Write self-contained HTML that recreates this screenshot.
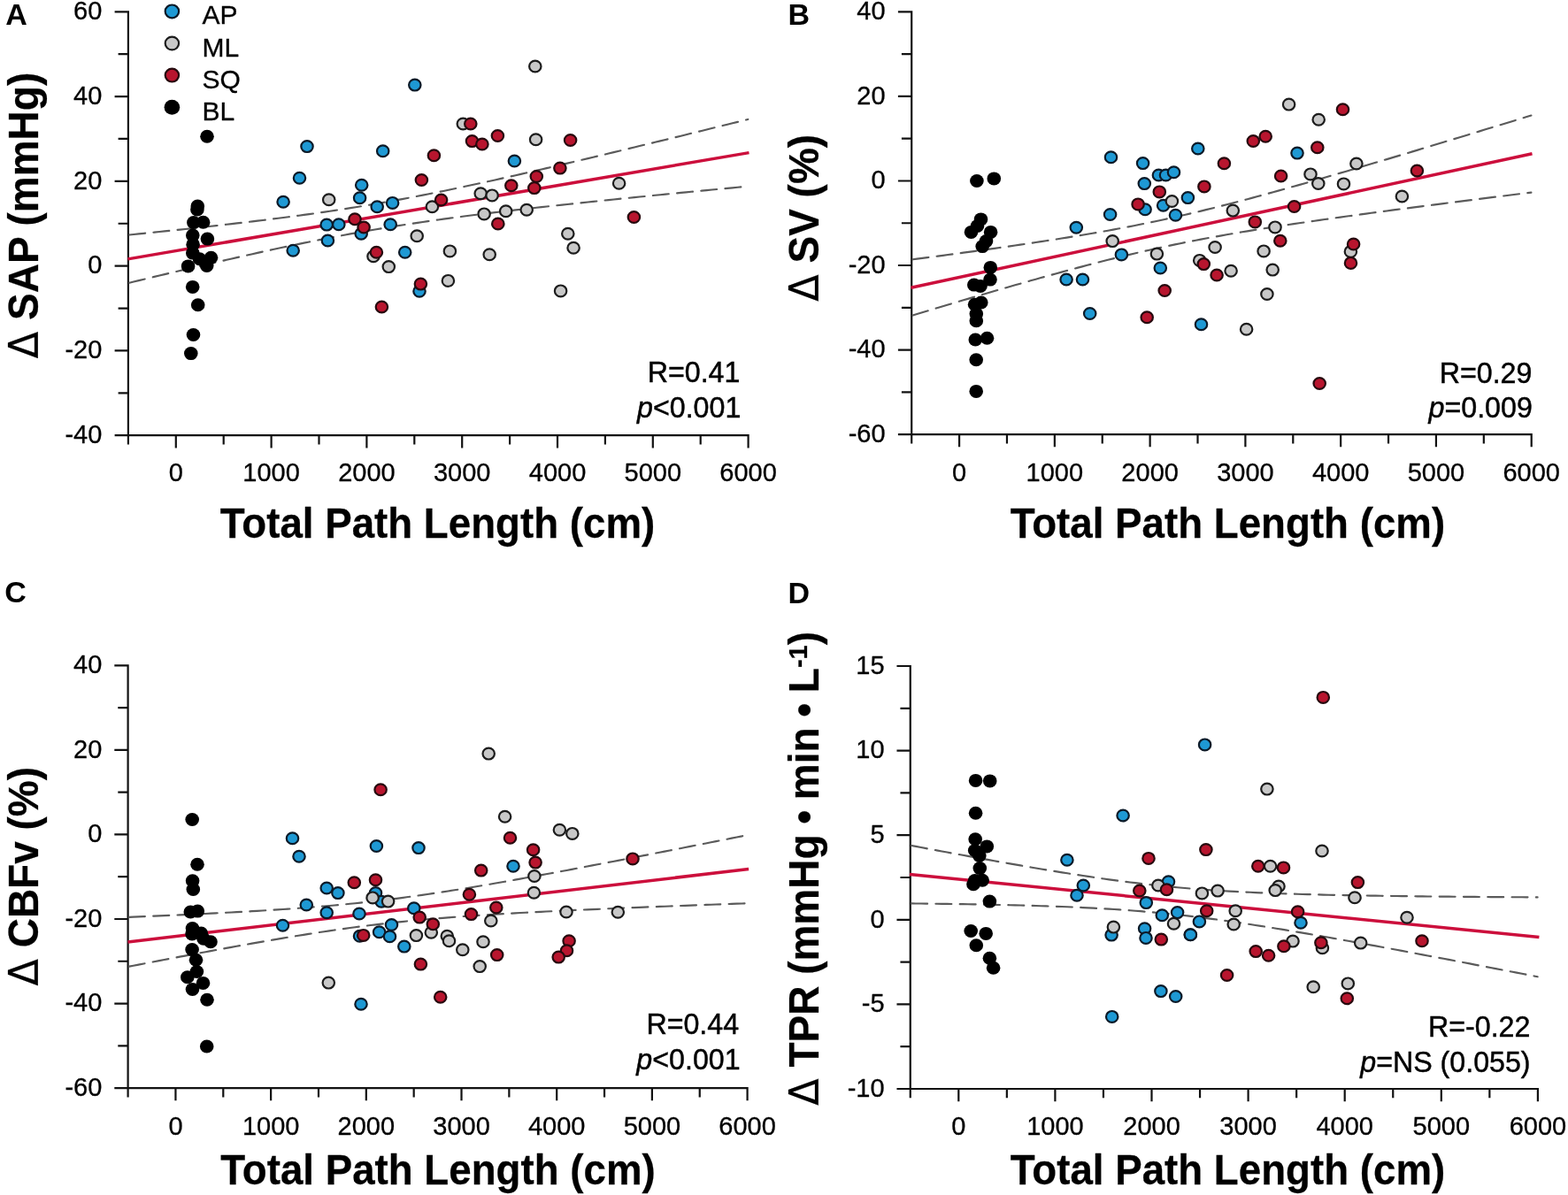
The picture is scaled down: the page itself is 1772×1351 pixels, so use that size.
<!DOCTYPE html>
<html><head><meta charset="utf-8"><title>Figure</title>
<style>html,body{margin:0;padding:0;background:#fff;} svg{display:block;} text{font-family:'Liberation Sans', Arial, sans-serif;fill:#000;}</style>
</head><body>
<svg width="1772" height="1351" viewBox="0 0 1772 1351">
<rect width="1772" height="1351" fill="#fff"/>
<path d="M144.90,12.20V502.50M129.60,492.20H846.70M129.60,13.30H144.90M133.60,61.19H144.90M129.60,109.08H144.90M133.60,156.97H144.90M129.60,204.86H144.90M133.60,252.75H144.90M129.60,300.64H144.90M133.60,348.53H144.90M129.60,396.42H144.90M133.60,444.31H144.90M129.60,492.20H144.90M144.90,492.20V502.50M198.80,492.20V506.40M252.70,492.20V502.50M306.60,492.20V506.40M360.50,492.20V502.50M414.40,492.20V506.40M468.30,492.20V502.50M522.20,492.20V506.40M576.10,492.20V502.50M630.00,492.20V506.40M683.90,492.20V502.50M737.80,492.20V506.40M791.70,492.20V502.50M845.60,492.20V506.40" stroke="#111" stroke-width="2.2" fill="none" stroke-linecap="butt"/>
<text transform="translate(115.30,22.00)" font-size="29" font-weight="normal" font-style="normal" text-anchor="end" stroke="#000" stroke-width="0.3" >60</text>
<text transform="translate(115.30,117.78)" font-size="29" font-weight="normal" font-style="normal" text-anchor="end" stroke="#000" stroke-width="0.3" >40</text>
<text transform="translate(115.30,213.56)" font-size="29" font-weight="normal" font-style="normal" text-anchor="end" stroke="#000" stroke-width="0.3" >20</text>
<text transform="translate(115.30,309.34)" font-size="29" font-weight="normal" font-style="normal" text-anchor="end" stroke="#000" stroke-width="0.3" >0</text>
<text transform="translate(115.30,405.12)" font-size="29" font-weight="normal" font-style="normal" text-anchor="end" stroke="#000" stroke-width="0.3" >-20</text>
<text transform="translate(115.30,500.90)" font-size="29" font-weight="normal" font-style="normal" text-anchor="end" stroke="#000" stroke-width="0.3" >-40</text>
<text transform="translate(198.80,544.30)" font-size="29" font-weight="normal" font-style="normal" text-anchor="middle" stroke="#000" stroke-width="0.3" >0</text>
<text transform="translate(306.60,544.30)" font-size="29" font-weight="normal" font-style="normal" text-anchor="middle" stroke="#000" stroke-width="0.3" >1000</text>
<text transform="translate(414.40,544.30)" font-size="29" font-weight="normal" font-style="normal" text-anchor="middle" stroke="#000" stroke-width="0.3" >2000</text>
<text transform="translate(522.20,544.30)" font-size="29" font-weight="normal" font-style="normal" text-anchor="middle" stroke="#000" stroke-width="0.3" >3000</text>
<text transform="translate(630.00,544.30)" font-size="29" font-weight="normal" font-style="normal" text-anchor="middle" stroke="#000" stroke-width="0.3" >4000</text>
<text transform="translate(737.80,544.30)" font-size="29" font-weight="normal" font-style="normal" text-anchor="middle" stroke="#000" stroke-width="0.3" >5000</text>
<text transform="translate(845.60,544.30)" font-size="29" font-weight="normal" font-style="normal" text-anchor="middle" stroke="#000" stroke-width="0.3" >6000</text>
<text transform="translate(494.50,607.90) scale(1.0,1.045)" font-size="45.7" font-weight="bold" font-style="normal" text-anchor="middle" stroke="#000" stroke-width="0.25" >Total Path Length (cm)</text>
<text transform="translate(43.30,243.50) rotate(-90) scale(1.0,1.045)" font-size="46" font-weight="bold" font-style="normal" text-anchor="middle" stroke="#000" stroke-width="0.25" ><tspan font-weight="normal" font-family="DejaVu Sans, sans-serif" font-size="44.5">Δ</tspan> SAP (mmHg)</text>
<text transform="translate(6.20,28.40)" font-size="34" font-weight="bold" font-style="normal" text-anchor="start" >A</text>
<path d="M145.20,265.63 L151.03,265.04 L156.87,264.44 L162.70,263.84 L168.54,263.24 L174.37,262.64 L180.21,262.03 L186.04,261.42 L191.87,260.81 L197.71,260.19 L203.54,259.57 L209.38,258.95 L215.21,258.32 L221.04,257.69 L226.88,257.05 L232.71,256.41 L238.55,255.76 L244.38,255.11 L250.22,254.45 L256.05,253.79 L261.88,253.12 L267.72,252.44 L273.55,251.76 L279.39,251.07 L285.22,250.37 L291.05,249.67 L296.89,248.95 L302.72,248.23 L308.56,247.50 L314.39,246.76 L320.23,246.01 L326.06,245.25 L331.89,244.48 L337.73,243.70 L343.56,242.90 L349.40,242.09 L355.23,241.28 L361.06,240.44 L366.90,239.60 L372.73,238.74 L378.57,237.86 L384.40,236.97 L390.24,236.07 L396.07,235.15 L401.90,234.22 L407.74,233.27 L413.57,232.30 L419.41,231.32 L425.24,230.32 L431.07,229.30 L436.91,228.27 L442.74,227.23 L448.58,226.16 L454.41,225.09 L460.25,223.99 L466.08,222.88 L471.91,221.76 L477.75,220.62 L483.58,219.47 L489.42,218.31 L495.25,217.13 L501.08,215.94 L506.92,214.73 L512.75,213.52 L518.59,212.29 L524.42,211.06 L530.25,209.81 L536.09,208.55 L541.92,207.28 L547.76,206.01 L553.59,204.72 L559.43,203.43 L565.26,202.13 L571.09,200.82 L576.93,199.50 L582.76,198.18 L588.60,196.85 L594.43,195.52 L600.26,194.18 L606.10,192.83 L611.93,191.48 L617.77,190.12 L623.60,188.76 L629.44,187.39 L635.27,186.02 L641.10,184.65 L646.94,183.27 L652.77,181.89 L658.61,180.50 L664.44,179.11 L670.28,177.72 L676.11,176.32 L681.94,174.92 L687.78,173.52 L693.61,172.12 L699.45,170.71 L705.28,169.30 L711.11,167.89 L716.95,166.48 L722.78,165.06 L728.62,163.64 L734.45,162.22 L740.28,160.80 L746.12,159.38 L751.95,157.95 L757.79,156.53 L763.62,155.10 L769.46,153.67 L775.29,152.24 L781.12,150.80 L786.96,149.37 L792.79,147.93 L798.63,146.50 L804.46,145.06 L810.30,143.62 L816.13,142.18 L821.96,140.74 L827.80,139.29 L833.63,137.85 L839.47,136.40 L845.30,134.96" fill="none" stroke="#5a5a5a" stroke-width="2.15" stroke-linecap="round" stroke-dasharray="17.950 9.350" stroke-dashoffset="-1.075"/>
<path d="M145.20,319.93 L151.03,318.52 L156.87,317.12 L162.70,315.72 L168.54,314.32 L174.37,312.92 L180.21,311.53 L186.04,310.14 L191.87,308.75 L197.71,307.37 L203.54,305.99 L209.38,304.62 L215.21,303.24 L221.04,301.88 L226.88,300.51 L232.71,299.16 L238.55,297.80 L244.38,296.46 L250.22,295.12 L256.05,293.78 L261.88,292.45 L267.72,291.13 L273.55,289.81 L279.39,288.50 L285.22,287.20 L291.05,285.90 L296.89,284.62 L302.72,283.34 L308.56,282.07 L314.39,280.81 L320.23,279.56 L326.06,278.32 L331.89,277.10 L337.73,275.88 L343.56,274.67 L349.40,273.48 L355.23,272.30 L361.06,271.13 L366.90,269.98 L372.73,268.84 L378.57,267.71 L384.40,266.60 L390.24,265.51 L396.07,264.43 L401.90,263.36 L407.74,262.31 L413.57,261.28 L419.41,260.26 L425.24,259.26 L431.07,258.28 L436.91,257.31 L442.74,256.36 L448.58,255.42 L454.41,254.50 L460.25,253.59 L466.08,252.70 L471.91,251.82 L477.75,250.96 L483.58,250.11 L489.42,249.28 L495.25,248.46 L501.08,247.65 L506.92,246.85 L512.75,246.07 L518.59,245.29 L524.42,244.53 L530.25,243.78 L536.09,243.04 L541.92,242.31 L547.76,241.58 L553.59,240.87 L559.43,240.16 L565.26,239.46 L571.09,238.77 L576.93,238.09 L582.76,237.41 L588.60,236.74 L594.43,236.08 L600.26,235.42 L606.10,234.76 L611.93,234.12 L617.77,233.47 L623.60,232.84 L629.44,232.20 L635.27,231.57 L641.10,230.95 L646.94,230.33 L652.77,229.71 L658.61,229.10 L664.44,228.49 L670.28,227.88 L676.11,227.28 L681.94,226.67 L687.78,226.08 L693.61,225.48 L699.45,224.89 L705.28,224.30 L711.11,223.71 L716.95,223.12 L722.78,222.54 L728.62,221.96 L734.45,221.38 L740.28,220.80 L746.12,220.23 L751.95,219.65 L757.79,219.08 L763.62,218.51 L769.46,217.94 L775.29,217.37 L781.12,216.80 L786.96,216.24 L792.79,215.68 L798.63,215.11 L804.46,214.55 L810.30,213.99 L816.13,213.43 L821.96,212.87 L827.80,212.32 L833.63,211.76 L839.47,211.21 L845.30,210.65" fill="none" stroke="#5a5a5a" stroke-width="2.15" stroke-linecap="round" stroke-dasharray="17.950 9.350" stroke-dashoffset="-1.075"/>
<line x1="144.50" y1="292.90" x2="846.50" y2="172.60" stroke="#cc0f3c" stroke-width="3.5"/>
<ellipse cx="234.0" cy="154.3" rx="7.80" ry="7.50" fill="#000"/>
<ellipse cx="223.3" cy="233.0" rx="7.80" ry="7.50" fill="#000"/>
<ellipse cx="222.9" cy="237.0" rx="7.80" ry="7.50" fill="#000"/>
<ellipse cx="218.9" cy="251.6" rx="7.80" ry="7.50" fill="#000"/>
<ellipse cx="229.6" cy="251.3" rx="7.80" ry="7.50" fill="#000"/>
<ellipse cx="217.8" cy="266.1" rx="7.80" ry="7.50" fill="#000"/>
<ellipse cx="234.4" cy="270.1" rx="7.80" ry="7.50" fill="#000"/>
<ellipse cx="218.1" cy="276.4" rx="7.80" ry="7.50" fill="#000"/>
<ellipse cx="217.8" cy="286.1" rx="7.80" ry="7.50" fill="#000"/>
<ellipse cx="225.5" cy="292.7" rx="7.80" ry="7.50" fill="#000"/>
<ellipse cx="238.5" cy="291.2" rx="7.80" ry="7.50" fill="#000"/>
<ellipse cx="212.6" cy="300.9" rx="7.80" ry="7.50" fill="#000"/>
<ellipse cx="233.7" cy="300.5" rx="7.80" ry="7.50" fill="#000"/>
<ellipse cx="217.7" cy="324.4" rx="7.80" ry="7.50" fill="#000"/>
<ellipse cx="223.7" cy="344.8" rx="7.80" ry="7.50" fill="#000"/>
<ellipse cx="218.5" cy="378.5" rx="7.80" ry="7.50" fill="#000"/>
<ellipse cx="215.8" cy="399.6" rx="7.80" ry="7.50" fill="#000"/>
<ellipse cx="468.8" cy="96.1" rx="6.70" ry="6.40" fill="#1e99d4" stroke="#0c1a28" stroke-width="2.2"/>
<ellipse cx="347.0" cy="165.6" rx="6.70" ry="6.40" fill="#1e99d4" stroke="#0c1a28" stroke-width="2.2"/>
<ellipse cx="432.7" cy="170.7" rx="6.70" ry="6.40" fill="#1e99d4" stroke="#0c1a28" stroke-width="2.2"/>
<ellipse cx="581.4" cy="182.0" rx="6.70" ry="6.40" fill="#1e99d4" stroke="#0c1a28" stroke-width="2.2"/>
<ellipse cx="338.5" cy="201.3" rx="6.70" ry="6.40" fill="#1e99d4" stroke="#0c1a28" stroke-width="2.2"/>
<ellipse cx="408.7" cy="209.3" rx="6.70" ry="6.40" fill="#1e99d4" stroke="#0c1a28" stroke-width="2.2"/>
<ellipse cx="320.1" cy="228.2" rx="6.70" ry="6.40" fill="#1e99d4" stroke="#0c1a28" stroke-width="2.2"/>
<ellipse cx="406.6" cy="223.8" rx="6.70" ry="6.40" fill="#1e99d4" stroke="#0c1a28" stroke-width="2.2"/>
<ellipse cx="426.2" cy="233.7" rx="6.70" ry="6.40" fill="#1e99d4" stroke="#0c1a28" stroke-width="2.2"/>
<ellipse cx="443.6" cy="229.4" rx="6.70" ry="6.40" fill="#1e99d4" stroke="#0c1a28" stroke-width="2.2"/>
<ellipse cx="369.2" cy="254.1" rx="6.70" ry="6.40" fill="#1e99d4" stroke="#0c1a28" stroke-width="2.2"/>
<ellipse cx="382.8" cy="253.8" rx="6.70" ry="6.40" fill="#1e99d4" stroke="#0c1a28" stroke-width="2.2"/>
<ellipse cx="408.2" cy="264.3" rx="6.70" ry="6.40" fill="#1e99d4" stroke="#0c1a28" stroke-width="2.2"/>
<ellipse cx="441.2" cy="253.8" rx="6.70" ry="6.40" fill="#1e99d4" stroke="#0c1a28" stroke-width="2.2"/>
<ellipse cx="370.4" cy="272.0" rx="6.70" ry="6.40" fill="#1e99d4" stroke="#0c1a28" stroke-width="2.2"/>
<ellipse cx="331.2" cy="283.3" rx="6.70" ry="6.40" fill="#1e99d4" stroke="#0c1a28" stroke-width="2.2"/>
<ellipse cx="457.7" cy="285.2" rx="6.70" ry="6.40" fill="#1e99d4" stroke="#0c1a28" stroke-width="2.2"/>
<ellipse cx="474.0" cy="329.2" rx="6.70" ry="6.40" fill="#1e99d4" stroke="#0c1a28" stroke-width="2.2"/>
<ellipse cx="604.8" cy="75.0" rx="6.70" ry="6.40" fill="#c8c8c8" stroke="#1c1c1c" stroke-width="2.2"/>
<ellipse cx="523.3" cy="140.0" rx="6.70" ry="6.40" fill="#c8c8c8" stroke="#1c1c1c" stroke-width="2.2"/>
<ellipse cx="605.6" cy="157.8" rx="6.70" ry="6.40" fill="#c8c8c8" stroke="#1c1c1c" stroke-width="2.2"/>
<ellipse cx="699.6" cy="207.2" rx="6.70" ry="6.40" fill="#c8c8c8" stroke="#1c1c1c" stroke-width="2.2"/>
<ellipse cx="371.7" cy="225.7" rx="6.70" ry="6.40" fill="#c8c8c8" stroke="#1c1c1c" stroke-width="2.2"/>
<ellipse cx="488.4" cy="233.7" rx="6.70" ry="6.40" fill="#c8c8c8" stroke="#1c1c1c" stroke-width="2.2"/>
<ellipse cx="543.2" cy="218.7" rx="6.70" ry="6.40" fill="#c8c8c8" stroke="#1c1c1c" stroke-width="2.2"/>
<ellipse cx="556.1" cy="220.9" rx="6.70" ry="6.40" fill="#c8c8c8" stroke="#1c1c1c" stroke-width="2.2"/>
<ellipse cx="547.1" cy="241.9" rx="6.70" ry="6.40" fill="#c8c8c8" stroke="#1c1c1c" stroke-width="2.2"/>
<ellipse cx="571.7" cy="238.7" rx="6.70" ry="6.40" fill="#c8c8c8" stroke="#1c1c1c" stroke-width="2.2"/>
<ellipse cx="595.2" cy="237.3" rx="6.70" ry="6.40" fill="#c8c8c8" stroke="#1c1c1c" stroke-width="2.2"/>
<ellipse cx="471.2" cy="266.7" rx="6.70" ry="6.40" fill="#c8c8c8" stroke="#1c1c1c" stroke-width="2.2"/>
<ellipse cx="508.4" cy="283.9" rx="6.70" ry="6.40" fill="#c8c8c8" stroke="#1c1c1c" stroke-width="2.2"/>
<ellipse cx="553.2" cy="287.7" rx="6.70" ry="6.40" fill="#c8c8c8" stroke="#1c1c1c" stroke-width="2.2"/>
<ellipse cx="422.0" cy="289.8" rx="6.70" ry="6.40" fill="#c8c8c8" stroke="#1c1c1c" stroke-width="2.2"/>
<ellipse cx="439.3" cy="301.6" rx="6.70" ry="6.40" fill="#c8c8c8" stroke="#1c1c1c" stroke-width="2.2"/>
<ellipse cx="506.4" cy="317.4" rx="6.70" ry="6.40" fill="#c8c8c8" stroke="#1c1c1c" stroke-width="2.2"/>
<ellipse cx="641.8" cy="264.2" rx="6.70" ry="6.40" fill="#c8c8c8" stroke="#1c1c1c" stroke-width="2.2"/>
<ellipse cx="648.1" cy="280.2" rx="6.70" ry="6.40" fill="#c8c8c8" stroke="#1c1c1c" stroke-width="2.2"/>
<ellipse cx="633.6" cy="328.9" rx="6.70" ry="6.40" fill="#c8c8c8" stroke="#1c1c1c" stroke-width="2.2"/>
<ellipse cx="531.8" cy="140.0" rx="6.70" ry="6.40" fill="#b8152e" stroke="#260a0e" stroke-width="2.2"/>
<ellipse cx="562.4" cy="153.5" rx="6.70" ry="6.40" fill="#b8152e" stroke="#260a0e" stroke-width="2.2"/>
<ellipse cx="533.5" cy="159.6" rx="6.70" ry="6.40" fill="#b8152e" stroke="#260a0e" stroke-width="2.2"/>
<ellipse cx="544.9" cy="163.0" rx="6.70" ry="6.40" fill="#b8152e" stroke="#260a0e" stroke-width="2.2"/>
<ellipse cx="490.4" cy="175.8" rx="6.70" ry="6.40" fill="#b8152e" stroke="#260a0e" stroke-width="2.2"/>
<ellipse cx="476.4" cy="203.5" rx="6.70" ry="6.40" fill="#b8152e" stroke="#260a0e" stroke-width="2.2"/>
<ellipse cx="577.8" cy="209.7" rx="6.70" ry="6.40" fill="#b8152e" stroke="#260a0e" stroke-width="2.2"/>
<ellipse cx="498.6" cy="226.0" rx="6.70" ry="6.40" fill="#b8152e" stroke="#260a0e" stroke-width="2.2"/>
<ellipse cx="401.0" cy="247.8" rx="6.70" ry="6.40" fill="#b8152e" stroke="#260a0e" stroke-width="2.2"/>
<ellipse cx="411.1" cy="257.0" rx="6.70" ry="6.40" fill="#b8152e" stroke="#260a0e" stroke-width="2.2"/>
<ellipse cx="562.8" cy="253.0" rx="6.70" ry="6.40" fill="#b8152e" stroke="#260a0e" stroke-width="2.2"/>
<ellipse cx="425.4" cy="285.2" rx="6.70" ry="6.40" fill="#b8152e" stroke="#260a0e" stroke-width="2.2"/>
<ellipse cx="475.4" cy="321.1" rx="6.70" ry="6.40" fill="#b8152e" stroke="#260a0e" stroke-width="2.2"/>
<ellipse cx="431.4" cy="347.0" rx="6.70" ry="6.40" fill="#b8152e" stroke="#260a0e" stroke-width="2.2"/>
<ellipse cx="644.6" cy="158.5" rx="6.70" ry="6.40" fill="#b8152e" stroke="#260a0e" stroke-width="2.2"/>
<ellipse cx="632.9" cy="190.1" rx="6.70" ry="6.40" fill="#b8152e" stroke="#260a0e" stroke-width="2.2"/>
<ellipse cx="606.3" cy="199.5" rx="6.70" ry="6.40" fill="#b8152e" stroke="#260a0e" stroke-width="2.2"/>
<ellipse cx="603.8" cy="212.6" rx="6.70" ry="6.40" fill="#b8152e" stroke="#260a0e" stroke-width="2.2"/>
<ellipse cx="716.4" cy="245.5" rx="6.70" ry="6.40" fill="#b8152e" stroke="#260a0e" stroke-width="2.2"/>
<ellipse cx="194.4" cy="12.9" rx="7.70" ry="7.40" fill="#1e99d4" stroke="#0c1a28" stroke-width="2.2"/>
<text transform="translate(228.60,27.40)" font-size="30" font-weight="normal" font-style="normal" text-anchor="start" stroke="#000" stroke-width="0.3" >AP</text>
<ellipse cx="194.4" cy="49.0" rx="7.70" ry="7.40" fill="#c8c8c8" stroke="#1c1c1c" stroke-width="2.2"/>
<text transform="translate(228.60,63.50)" font-size="30" font-weight="normal" font-style="normal" text-anchor="start" stroke="#000" stroke-width="0.3" >ML</text>
<ellipse cx="194.4" cy="85.1" rx="7.70" ry="7.40" fill="#b8152e" stroke="#260a0e" stroke-width="2.2"/>
<text transform="translate(228.60,99.60)" font-size="30" font-weight="normal" font-style="normal" text-anchor="start" stroke="#000" stroke-width="0.3" >SQ</text>
<ellipse cx="194.4" cy="121.2" rx="8.80" ry="8.50" fill="#000"/>
<text transform="translate(228.60,135.70)" font-size="30" font-weight="normal" font-style="normal" text-anchor="start" stroke="#000" stroke-width="0.3" >BL</text>
<text transform="translate(836.40,431.80) scale(1.0,1.06)" font-size="32.2" font-weight="normal" font-style="normal" text-anchor="end" stroke="#000" stroke-width="0.45" >R=0.41</text>
<text transform="translate(837.30,471.60) scale(1.0,1.06)" font-size="32.2" font-weight="normal" font-style="normal" text-anchor="end" stroke="#000" stroke-width="0.45" ><tspan font-style="italic">p</tspan>&lt;0.001</text>
<path d="M1030.20,12.30V501.40M1014.90,491.10H1731.80M1014.90,13.40H1030.20M1018.90,61.17H1030.20M1014.90,108.94H1030.20M1018.90,156.71H1030.20M1014.90,204.48H1030.20M1018.90,252.25H1030.20M1014.90,300.02H1030.20M1018.90,347.79H1030.20M1014.90,395.56H1030.20M1018.90,443.33H1030.20M1014.90,491.10H1030.20M1030.20,491.10V501.40M1084.09,491.10V505.30M1137.97,491.10V501.40M1191.86,491.10V505.30M1245.74,491.10V501.40M1299.62,491.10V505.30M1353.51,491.10V501.40M1407.39,491.10V505.30M1461.28,491.10V501.40M1515.16,491.10V505.30M1569.05,491.10V501.40M1622.93,491.10V505.30M1676.82,491.10V501.40M1730.70,491.10V505.30" stroke="#111" stroke-width="2.2" fill="none" stroke-linecap="butt"/>
<text transform="translate(1000.60,22.10)" font-size="29" font-weight="normal" font-style="normal" text-anchor="end" stroke="#000" stroke-width="0.3" >40</text>
<text transform="translate(1000.60,117.64)" font-size="29" font-weight="normal" font-style="normal" text-anchor="end" stroke="#000" stroke-width="0.3" >20</text>
<text transform="translate(1000.60,213.18)" font-size="29" font-weight="normal" font-style="normal" text-anchor="end" stroke="#000" stroke-width="0.3" >0</text>
<text transform="translate(1000.60,308.72)" font-size="29" font-weight="normal" font-style="normal" text-anchor="end" stroke="#000" stroke-width="0.3" >-20</text>
<text transform="translate(1000.60,404.26)" font-size="29" font-weight="normal" font-style="normal" text-anchor="end" stroke="#000" stroke-width="0.3" >-40</text>
<text transform="translate(1000.60,499.80)" font-size="29" font-weight="normal" font-style="normal" text-anchor="end" stroke="#000" stroke-width="0.3" >-60</text>
<text transform="translate(1084.09,544.30)" font-size="29" font-weight="normal" font-style="normal" text-anchor="middle" stroke="#000" stroke-width="0.3" >0</text>
<text transform="translate(1191.86,544.30)" font-size="29" font-weight="normal" font-style="normal" text-anchor="middle" stroke="#000" stroke-width="0.3" >1000</text>
<text transform="translate(1299.62,544.30)" font-size="29" font-weight="normal" font-style="normal" text-anchor="middle" stroke="#000" stroke-width="0.3" >2000</text>
<text transform="translate(1407.39,544.30)" font-size="29" font-weight="normal" font-style="normal" text-anchor="middle" stroke="#000" stroke-width="0.3" >3000</text>
<text transform="translate(1515.16,544.30)" font-size="29" font-weight="normal" font-style="normal" text-anchor="middle" stroke="#000" stroke-width="0.3" >4000</text>
<text transform="translate(1622.93,544.30)" font-size="29" font-weight="normal" font-style="normal" text-anchor="middle" stroke="#000" stroke-width="0.3" >5000</text>
<text transform="translate(1730.70,544.30)" font-size="29" font-weight="normal" font-style="normal" text-anchor="middle" stroke="#000" stroke-width="0.3" >6000</text>
<text transform="translate(1387.40,607.90) scale(1.0,1.045)" font-size="45.7" font-weight="bold" font-style="normal" text-anchor="middle" stroke="#000" stroke-width="0.25" >Total Path Length (cm)</text>
<text transform="translate(925.00,246.30) rotate(-90) scale(1.0,1.045)" font-size="46" font-weight="bold" font-style="normal" text-anchor="middle" stroke="#000" stroke-width="0.25" ><tspan font-weight="normal" font-family="DejaVu Sans, sans-serif" font-size="44.5">Δ</tspan> SV (%)</text>
<text transform="translate(890.40,28.40)" font-size="34" font-weight="bold" font-style="normal" text-anchor="start" >B</text>
<path d="M144.60,751.20V1240.40M129.30,1230.10H845.69M129.30,752.30H144.60M133.30,800.08H144.60M129.30,847.86H144.60M133.30,895.64H144.60M129.30,943.42H144.60M133.30,991.20H144.60M129.30,1038.98H144.60M133.30,1086.76H144.60M129.30,1134.54H144.60M133.30,1182.32H144.60M129.30,1230.10H144.60M144.60,1230.10V1240.40M198.44,1230.10V1244.30M252.29,1230.10V1240.40M306.13,1230.10V1244.30M359.98,1230.10V1240.40M413.82,1230.10V1244.30M467.67,1230.10V1240.40M521.51,1230.10V1244.30M575.36,1230.10V1240.40M629.20,1230.10V1244.30M683.05,1230.10V1240.40M736.89,1230.10V1244.30M790.74,1230.10V1240.40M844.59,1230.10V1244.30" stroke="#111" stroke-width="2.2" fill="none" stroke-linecap="butt"/>
<text transform="translate(115.30,761.00)" font-size="29" font-weight="normal" font-style="normal" text-anchor="end" stroke="#000" stroke-width="0.3" >40</text>
<text transform="translate(115.30,856.56)" font-size="29" font-weight="normal" font-style="normal" text-anchor="end" stroke="#000" stroke-width="0.3" >20</text>
<text transform="translate(115.30,952.12)" font-size="29" font-weight="normal" font-style="normal" text-anchor="end" stroke="#000" stroke-width="0.3" >0</text>
<text transform="translate(115.30,1047.68)" font-size="29" font-weight="normal" font-style="normal" text-anchor="end" stroke="#000" stroke-width="0.3" >-20</text>
<text transform="translate(115.30,1143.24)" font-size="29" font-weight="normal" font-style="normal" text-anchor="end" stroke="#000" stroke-width="0.3" >-40</text>
<text transform="translate(115.30,1238.80)" font-size="29" font-weight="normal" font-style="normal" text-anchor="end" stroke="#000" stroke-width="0.3" >-60</text>
<text transform="translate(198.44,1282.50)" font-size="29" font-weight="normal" font-style="normal" text-anchor="middle" stroke="#000" stroke-width="0.3" >0</text>
<text transform="translate(306.13,1282.50)" font-size="29" font-weight="normal" font-style="normal" text-anchor="middle" stroke="#000" stroke-width="0.3" >1000</text>
<text transform="translate(413.82,1282.50)" font-size="29" font-weight="normal" font-style="normal" text-anchor="middle" stroke="#000" stroke-width="0.3" >2000</text>
<text transform="translate(521.51,1282.50)" font-size="29" font-weight="normal" font-style="normal" text-anchor="middle" stroke="#000" stroke-width="0.3" >3000</text>
<text transform="translate(629.20,1282.50)" font-size="29" font-weight="normal" font-style="normal" text-anchor="middle" stroke="#000" stroke-width="0.3" >4000</text>
<text transform="translate(736.89,1282.50)" font-size="29" font-weight="normal" font-style="normal" text-anchor="middle" stroke="#000" stroke-width="0.3" >5000</text>
<text transform="translate(844.59,1282.50)" font-size="29" font-weight="normal" font-style="normal" text-anchor="middle" stroke="#000" stroke-width="0.3" >6000</text>
<text transform="translate(495.00,1339.30) scale(1.0,1.045)" font-size="45.7" font-weight="bold" font-style="normal" text-anchor="middle" stroke="#000" stroke-width="0.25" >Total Path Length (cm)</text>
<text transform="translate(43.30,990.75) rotate(-90) scale(1.0,1.045)" font-size="46" font-weight="bold" font-style="normal" text-anchor="middle" stroke="#000" stroke-width="0.25" ><tspan font-weight="normal" font-family="DejaVu Sans, sans-serif" font-size="44.5">Δ</tspan> CBFv (%)</text>
<text transform="translate(5.30,680.80)" font-size="34" font-weight="bold" font-style="normal" text-anchor="start" >C</text>
<path d="M1028.75,751.90V1241.30M1013.45,1231.00H1739.00M1013.45,753.00H1028.75M1017.45,800.80H1028.75M1013.45,848.60H1028.75M1017.45,896.40H1028.75M1013.45,944.20H1028.75M1017.45,992.00H1028.75M1013.45,1039.80H1028.75M1017.45,1087.60H1028.75M1013.45,1135.40H1028.75M1017.45,1183.20H1028.75M1013.45,1231.00H1028.75M1028.75,1231.00V1241.30M1083.30,1231.00V1245.20M1137.85,1231.00V1241.30M1192.40,1231.00V1245.20M1246.95,1231.00V1241.30M1301.50,1231.00V1245.20M1356.05,1231.00V1241.30M1410.60,1231.00V1245.20M1465.15,1231.00V1241.30M1519.70,1231.00V1245.20M1574.25,1231.00V1241.30M1628.80,1231.00V1245.20M1683.35,1231.00V1241.30M1737.90,1231.00V1245.20" stroke="#111" stroke-width="2.2" fill="none" stroke-linecap="butt"/>
<text transform="translate(999.60,761.70)" font-size="29" font-weight="normal" font-style="normal" text-anchor="end" stroke="#000" stroke-width="0.3" >15</text>
<text transform="translate(999.60,857.30)" font-size="29" font-weight="normal" font-style="normal" text-anchor="end" stroke="#000" stroke-width="0.3" >10</text>
<text transform="translate(999.60,952.90)" font-size="29" font-weight="normal" font-style="normal" text-anchor="end" stroke="#000" stroke-width="0.3" >5</text>
<text transform="translate(999.60,1048.50)" font-size="29" font-weight="normal" font-style="normal" text-anchor="end" stroke="#000" stroke-width="0.3" >0</text>
<text transform="translate(999.60,1144.10)" font-size="29" font-weight="normal" font-style="normal" text-anchor="end" stroke="#000" stroke-width="0.3" >-5</text>
<text transform="translate(999.60,1239.70)" font-size="29" font-weight="normal" font-style="normal" text-anchor="end" stroke="#000" stroke-width="0.3" >-10</text>
<text transform="translate(1083.30,1282.50)" font-size="29" font-weight="normal" font-style="normal" text-anchor="middle" stroke="#000" stroke-width="0.3" >0</text>
<text transform="translate(1192.40,1282.50)" font-size="29" font-weight="normal" font-style="normal" text-anchor="middle" stroke="#000" stroke-width="0.3" >1000</text>
<text transform="translate(1301.50,1282.50)" font-size="29" font-weight="normal" font-style="normal" text-anchor="middle" stroke="#000" stroke-width="0.3" >2000</text>
<text transform="translate(1410.60,1282.50)" font-size="29" font-weight="normal" font-style="normal" text-anchor="middle" stroke="#000" stroke-width="0.3" >3000</text>
<text transform="translate(1519.70,1282.50)" font-size="29" font-weight="normal" font-style="normal" text-anchor="middle" stroke="#000" stroke-width="0.3" >4000</text>
<text transform="translate(1628.80,1282.50)" font-size="29" font-weight="normal" font-style="normal" text-anchor="middle" stroke="#000" stroke-width="0.3" >5000</text>
<text transform="translate(1737.90,1282.50)" font-size="29" font-weight="normal" font-style="normal" text-anchor="middle" stroke="#000" stroke-width="0.3" >6000</text>
<text transform="translate(1387.50,1339.30) scale(1.0,1.045)" font-size="45.7" font-weight="bold" font-style="normal" text-anchor="middle" stroke="#000" stroke-width="0.25" >Total Path Length (cm)</text>
<text transform="translate(925.00,981.90) rotate(-90) scale(1.0,1.045)" font-size="46" font-weight="bold" font-style="normal" text-anchor="middle" stroke="#000" stroke-width="0.25" ><tspan font-weight="normal" font-family="DejaVu Sans, sans-serif" font-size="44.5">Δ</tspan> TPR (mmHg <tspan dx="-1.2">•</tspan><tspan dx="-1.2"> min </tspan><tspan dx="-1.2">•</tspan><tspan dx="-1.2"> L</tspan><tspan dy="-12.8" font-size="29">-1</tspan><tspan dy="12.8">)</tspan></text>
<text transform="translate(890.50,681.50)" font-size="34" font-weight="bold" font-style="normal" text-anchor="start" >D</text>
<path d="M1030.50,293.43 L1036.33,292.66 L1042.17,291.90 L1048.00,291.13 L1053.83,290.36 L1059.66,289.59 L1065.50,288.81 L1071.33,288.03 L1077.16,287.24 L1082.99,286.46 L1088.83,285.67 L1094.66,284.87 L1100.49,284.07 L1106.32,283.27 L1112.16,282.46 L1117.99,281.65 L1123.82,280.83 L1129.65,280.00 L1135.49,279.17 L1141.32,278.34 L1147.15,277.50 L1152.98,276.65 L1158.82,275.79 L1164.65,274.92 L1170.48,274.05 L1176.31,273.17 L1182.15,272.28 L1187.98,271.38 L1193.81,270.47 L1199.64,269.55 L1205.48,268.62 L1211.31,267.68 L1217.14,266.72 L1222.97,265.75 L1228.81,264.77 L1234.64,263.77 L1240.47,262.76 L1246.30,261.73 L1252.14,260.69 L1257.97,259.63 L1263.80,258.55 L1269.63,257.45 L1275.47,256.33 L1281.30,255.20 L1287.13,254.04 L1292.96,252.87 L1298.80,251.67 L1304.63,250.46 L1310.46,249.22 L1316.29,247.96 L1322.13,246.68 L1327.96,245.38 L1333.79,244.06 L1339.62,242.72 L1345.46,241.36 L1351.29,239.98 L1357.12,238.58 L1362.95,237.16 L1368.79,235.72 L1374.62,234.26 L1380.45,232.79 L1386.29,231.30 L1392.12,229.80 L1397.95,228.28 L1403.78,226.74 L1409.62,225.20 L1415.45,223.64 L1421.28,222.06 L1427.11,220.48 L1432.95,218.88 L1438.78,217.27 L1444.61,215.66 L1450.44,214.03 L1456.28,212.39 L1462.11,210.75 L1467.94,209.10 L1473.77,207.44 L1479.61,205.77 L1485.44,204.09 L1491.27,202.41 L1497.10,200.72 L1502.94,199.03 L1508.77,197.33 L1514.60,195.63 L1520.43,193.92 L1526.27,192.21 L1532.10,190.49 L1537.93,188.77 L1543.76,187.04 L1549.60,185.31 L1555.43,183.58 L1561.26,181.84 L1567.09,180.10 L1572.93,178.36 L1578.76,176.61 L1584.59,174.86 L1590.42,173.11 L1596.26,171.35 L1602.09,169.60 L1607.92,167.84 L1613.75,166.08 L1619.59,164.31 L1625.42,162.55 L1631.25,160.78 L1637.08,159.01 L1642.92,157.24 L1648.75,155.47 L1654.58,153.69 L1660.41,151.91 L1666.25,150.14 L1672.08,148.36 L1677.91,146.58 L1683.74,144.80 L1689.58,143.01 L1695.41,141.23 L1701.24,139.44 L1707.07,137.66 L1712.91,135.87 L1718.74,134.08 L1724.57,132.29 L1730.40,130.50" fill="none" stroke="#5a5a5a" stroke-width="2.15" stroke-linecap="round" stroke-dasharray="17.950 9.350" stroke-dashoffset="-1.075"/>
<path d="M1030.50,356.74 L1036.33,354.99 L1042.17,353.23 L1048.00,351.49 L1053.83,349.74 L1059.66,348.00 L1065.50,346.25 L1071.33,344.52 L1077.16,342.78 L1082.99,341.05 L1088.83,339.33 L1094.66,337.60 L1100.49,335.89 L1106.32,334.17 L1112.16,332.46 L1117.99,330.76 L1123.82,329.06 L1129.65,327.37 L1135.49,325.68 L1141.32,324.00 L1147.15,322.32 L1152.98,320.66 L1158.82,319.00 L1164.65,317.34 L1170.48,315.70 L1176.31,314.06 L1182.15,312.43 L1187.98,310.82 L1193.81,309.21 L1199.64,307.61 L1205.48,306.03 L1211.31,304.45 L1217.14,302.89 L1222.97,301.34 L1228.81,299.81 L1234.64,298.29 L1240.47,296.78 L1246.30,295.29 L1252.14,293.82 L1257.97,292.36 L1263.80,290.92 L1269.63,289.50 L1275.47,288.10 L1281.30,286.72 L1287.13,285.36 L1292.96,284.01 L1298.80,282.69 L1304.63,281.39 L1310.46,280.11 L1316.29,278.85 L1322.13,277.61 L1327.96,276.40 L1333.79,275.20 L1339.62,274.02 L1345.46,272.87 L1351.29,271.73 L1357.12,270.61 L1362.95,269.52 L1368.79,268.44 L1374.62,267.37 L1380.45,266.33 L1386.29,265.30 L1392.12,264.29 L1397.95,263.29 L1403.78,262.31 L1409.62,261.34 L1415.45,260.38 L1421.28,259.44 L1427.11,258.50 L1432.95,257.58 L1438.78,256.67 L1444.61,255.77 L1450.44,254.88 L1456.28,254.00 L1462.11,253.13 L1467.94,252.26 L1473.77,251.41 L1479.61,250.56 L1485.44,249.71 L1491.27,248.88 L1497.10,248.05 L1502.94,247.22 L1508.77,246.40 L1514.60,245.59 L1520.43,244.78 L1526.27,243.98 L1532.10,243.18 L1537.93,242.38 L1543.76,241.59 L1549.60,240.80 L1555.43,240.02 L1561.26,239.24 L1567.09,238.46 L1572.93,237.69 L1578.76,236.92 L1584.59,236.15 L1590.42,235.38 L1596.26,234.62 L1602.09,233.86 L1607.92,233.10 L1613.75,232.35 L1619.59,231.59 L1625.42,230.84 L1631.25,230.09 L1637.08,229.34 L1642.92,228.60 L1648.75,227.85 L1654.58,227.11 L1660.41,226.37 L1666.25,225.63 L1672.08,224.89 L1677.91,224.15 L1683.74,223.42 L1689.58,222.68 L1695.41,221.95 L1701.24,221.22 L1707.07,220.49 L1712.91,219.76 L1718.74,219.03 L1724.57,218.30 L1730.40,217.57" fill="none" stroke="#5a5a5a" stroke-width="2.15" stroke-linecap="round" stroke-dasharray="17.950 9.350" stroke-dashoffset="-1.075"/>
<line x1="1029.50" y1="325.30" x2="1731.50" y2="173.80" stroke="#cc0f3c" stroke-width="3.5"/>
<ellipse cx="1103.9" cy="204.5" rx="7.80" ry="7.50" fill="#000"/>
<ellipse cx="1123.3" cy="201.9" rx="7.80" ry="7.50" fill="#000"/>
<ellipse cx="1108.5" cy="247.9" rx="7.80" ry="7.50" fill="#000"/>
<ellipse cx="1104.5" cy="255.5" rx="7.80" ry="7.50" fill="#000"/>
<ellipse cx="1097.5" cy="262.4" rx="7.80" ry="7.50" fill="#000"/>
<ellipse cx="1119.6" cy="262.4" rx="7.80" ry="7.50" fill="#000"/>
<ellipse cx="1114.5" cy="272.6" rx="7.80" ry="7.50" fill="#000"/>
<ellipse cx="1110.2" cy="278.6" rx="7.80" ry="7.50" fill="#000"/>
<ellipse cx="1119.3" cy="302.4" rx="7.80" ry="7.50" fill="#000"/>
<ellipse cx="1119.0" cy="316.1" rx="7.80" ry="7.50" fill="#000"/>
<ellipse cx="1100.8" cy="322.1" rx="7.80" ry="7.50" fill="#000"/>
<ellipse cx="1108.0" cy="323.4" rx="7.80" ry="7.50" fill="#000"/>
<ellipse cx="1108.8" cy="342.0" rx="7.80" ry="7.50" fill="#000"/>
<ellipse cx="1101.6" cy="344.2" rx="7.80" ry="7.50" fill="#000"/>
<ellipse cx="1103.3" cy="354.8" rx="7.80" ry="7.50" fill="#000"/>
<ellipse cx="1103.3" cy="362.8" rx="7.80" ry="7.50" fill="#000"/>
<ellipse cx="1102.3" cy="384.0" rx="7.80" ry="7.50" fill="#000"/>
<ellipse cx="1115.5" cy="382.3" rx="7.80" ry="7.50" fill="#000"/>
<ellipse cx="1103.2" cy="406.8" rx="7.80" ry="7.50" fill="#000"/>
<ellipse cx="1103.2" cy="442.4" rx="7.80" ry="7.50" fill="#000"/>
<ellipse cx="1255.5" cy="177.8" rx="6.70" ry="6.40" fill="#1e99d4" stroke="#0c1a28" stroke-width="2.2"/>
<ellipse cx="1291.6" cy="184.6" rx="6.70" ry="6.40" fill="#1e99d4" stroke="#0c1a28" stroke-width="2.2"/>
<ellipse cx="1353.8" cy="168.0" rx="6.70" ry="6.40" fill="#1e99d4" stroke="#0c1a28" stroke-width="2.2"/>
<ellipse cx="1309.4" cy="198.0" rx="6.70" ry="6.40" fill="#1e99d4" stroke="#0c1a28" stroke-width="2.2"/>
<ellipse cx="1317.5" cy="198.0" rx="6.70" ry="6.40" fill="#1e99d4" stroke="#0c1a28" stroke-width="2.2"/>
<ellipse cx="1326.5" cy="194.8" rx="6.70" ry="6.40" fill="#1e99d4" stroke="#0c1a28" stroke-width="2.2"/>
<ellipse cx="1293.3" cy="207.6" rx="6.70" ry="6.40" fill="#1e99d4" stroke="#0c1a28" stroke-width="2.2"/>
<ellipse cx="1342.4" cy="223.6" rx="6.70" ry="6.40" fill="#1e99d4" stroke="#0c1a28" stroke-width="2.2"/>
<ellipse cx="1314.6" cy="232.2" rx="6.70" ry="6.40" fill="#1e99d4" stroke="#0c1a28" stroke-width="2.2"/>
<ellipse cx="1294.1" cy="236.8" rx="6.70" ry="6.40" fill="#1e99d4" stroke="#0c1a28" stroke-width="2.2"/>
<ellipse cx="1254.6" cy="242.5" rx="6.70" ry="6.40" fill="#1e99d4" stroke="#0c1a28" stroke-width="2.2"/>
<ellipse cx="1328.5" cy="243.3" rx="6.70" ry="6.40" fill="#1e99d4" stroke="#0c1a28" stroke-width="2.2"/>
<ellipse cx="1216.3" cy="257.3" rx="6.70" ry="6.40" fill="#1e99d4" stroke="#0c1a28" stroke-width="2.2"/>
<ellipse cx="1267.4" cy="287.9" rx="6.70" ry="6.40" fill="#1e99d4" stroke="#0c1a28" stroke-width="2.2"/>
<ellipse cx="1311.3" cy="303.0" rx="6.70" ry="6.40" fill="#1e99d4" stroke="#0c1a28" stroke-width="2.2"/>
<ellipse cx="1205.1" cy="316.0" rx="6.70" ry="6.40" fill="#1e99d4" stroke="#0c1a28" stroke-width="2.2"/>
<ellipse cx="1223.5" cy="316.0" rx="6.70" ry="6.40" fill="#1e99d4" stroke="#0c1a28" stroke-width="2.2"/>
<ellipse cx="1231.7" cy="354.5" rx="6.70" ry="6.40" fill="#1e99d4" stroke="#0c1a28" stroke-width="2.2"/>
<ellipse cx="1357.5" cy="366.8" rx="6.70" ry="6.40" fill="#1e99d4" stroke="#0c1a28" stroke-width="2.2"/>
<ellipse cx="1466.0" cy="173.1" rx="6.70" ry="6.40" fill="#1e99d4" stroke="#0c1a28" stroke-width="2.2"/>
<ellipse cx="1324.4" cy="227.5" rx="6.70" ry="6.40" fill="#c8c8c8" stroke="#1c1c1c" stroke-width="2.2"/>
<ellipse cx="1257.2" cy="272.6" rx="6.70" ry="6.40" fill="#c8c8c8" stroke="#1c1c1c" stroke-width="2.2"/>
<ellipse cx="1307.4" cy="287.1" rx="6.70" ry="6.40" fill="#c8c8c8" stroke="#1c1c1c" stroke-width="2.2"/>
<ellipse cx="1456.6" cy="118.1" rx="6.70" ry="6.40" fill="#c8c8c8" stroke="#1c1c1c" stroke-width="2.2"/>
<ellipse cx="1490.2" cy="135.2" rx="6.70" ry="6.40" fill="#c8c8c8" stroke="#1c1c1c" stroke-width="2.2"/>
<ellipse cx="1532.9" cy="185.0" rx="6.70" ry="6.40" fill="#c8c8c8" stroke="#1c1c1c" stroke-width="2.2"/>
<ellipse cx="1481.0" cy="196.9" rx="6.70" ry="6.40" fill="#c8c8c8" stroke="#1c1c1c" stroke-width="2.2"/>
<ellipse cx="1489.8" cy="207.5" rx="6.70" ry="6.40" fill="#c8c8c8" stroke="#1c1c1c" stroke-width="2.2"/>
<ellipse cx="1518.5" cy="207.9" rx="6.70" ry="6.40" fill="#c8c8c8" stroke="#1c1c1c" stroke-width="2.2"/>
<ellipse cx="1584.4" cy="222.0" rx="6.70" ry="6.40" fill="#c8c8c8" stroke="#1c1c1c" stroke-width="2.2"/>
<ellipse cx="1393.3" cy="238.1" rx="6.70" ry="6.40" fill="#c8c8c8" stroke="#1c1c1c" stroke-width="2.2"/>
<ellipse cx="1441.0" cy="256.9" rx="6.70" ry="6.40" fill="#c8c8c8" stroke="#1c1c1c" stroke-width="2.2"/>
<ellipse cx="1373.1" cy="279.5" rx="6.70" ry="6.40" fill="#c8c8c8" stroke="#1c1c1c" stroke-width="2.2"/>
<ellipse cx="1428.1" cy="283.9" rx="6.70" ry="6.40" fill="#c8c8c8" stroke="#1c1c1c" stroke-width="2.2"/>
<ellipse cx="1355.7" cy="294.4" rx="6.70" ry="6.40" fill="#c8c8c8" stroke="#1c1c1c" stroke-width="2.2"/>
<ellipse cx="1391.1" cy="306.2" rx="6.70" ry="6.40" fill="#c8c8c8" stroke="#1c1c1c" stroke-width="2.2"/>
<ellipse cx="1438.2" cy="305.1" rx="6.70" ry="6.40" fill="#c8c8c8" stroke="#1c1c1c" stroke-width="2.2"/>
<ellipse cx="1526.4" cy="284.4" rx="6.70" ry="6.40" fill="#c8c8c8" stroke="#1c1c1c" stroke-width="2.2"/>
<ellipse cx="1431.9" cy="332.5" rx="6.70" ry="6.40" fill="#c8c8c8" stroke="#1c1c1c" stroke-width="2.2"/>
<ellipse cx="1408.6" cy="372.3" rx="6.70" ry="6.40" fill="#c8c8c8" stroke="#1c1c1c" stroke-width="2.2"/>
<ellipse cx="1310.3" cy="216.9" rx="6.70" ry="6.40" fill="#b8152e" stroke="#260a0e" stroke-width="2.2"/>
<ellipse cx="1286.1" cy="230.9" rx="6.70" ry="6.40" fill="#b8152e" stroke="#260a0e" stroke-width="2.2"/>
<ellipse cx="1316.2" cy="328.5" rx="6.70" ry="6.40" fill="#b8152e" stroke="#260a0e" stroke-width="2.2"/>
<ellipse cx="1296.2" cy="358.7" rx="6.70" ry="6.40" fill="#b8152e" stroke="#260a0e" stroke-width="2.2"/>
<ellipse cx="1517.5" cy="123.8" rx="6.70" ry="6.40" fill="#b8152e" stroke="#260a0e" stroke-width="2.2"/>
<ellipse cx="1416.3" cy="159.5" rx="6.70" ry="6.40" fill="#b8152e" stroke="#260a0e" stroke-width="2.2"/>
<ellipse cx="1430.2" cy="154.2" rx="6.70" ry="6.40" fill="#b8152e" stroke="#260a0e" stroke-width="2.2"/>
<ellipse cx="1488.8" cy="166.7" rx="6.70" ry="6.40" fill="#b8152e" stroke="#260a0e" stroke-width="2.2"/>
<ellipse cx="1383.4" cy="184.8" rx="6.70" ry="6.40" fill="#b8152e" stroke="#260a0e" stroke-width="2.2"/>
<ellipse cx="1447.6" cy="199.0" rx="6.70" ry="6.40" fill="#b8152e" stroke="#260a0e" stroke-width="2.2"/>
<ellipse cx="1360.9" cy="210.9" rx="6.70" ry="6.40" fill="#b8152e" stroke="#260a0e" stroke-width="2.2"/>
<ellipse cx="1462.6" cy="233.5" rx="6.70" ry="6.40" fill="#b8152e" stroke="#260a0e" stroke-width="2.2"/>
<ellipse cx="1601.4" cy="193.0" rx="6.70" ry="6.40" fill="#b8152e" stroke="#260a0e" stroke-width="2.2"/>
<ellipse cx="1418.3" cy="250.9" rx="6.70" ry="6.40" fill="#b8152e" stroke="#260a0e" stroke-width="2.2"/>
<ellipse cx="1446.8" cy="272.2" rx="6.70" ry="6.40" fill="#b8152e" stroke="#260a0e" stroke-width="2.2"/>
<ellipse cx="1529.6" cy="276.0" rx="6.70" ry="6.40" fill="#b8152e" stroke="#260a0e" stroke-width="2.2"/>
<ellipse cx="1526.5" cy="297.4" rx="6.70" ry="6.40" fill="#b8152e" stroke="#260a0e" stroke-width="2.2"/>
<ellipse cx="1360.3" cy="298.6" rx="6.70" ry="6.40" fill="#b8152e" stroke="#260a0e" stroke-width="2.2"/>
<ellipse cx="1375.1" cy="311.0" rx="6.70" ry="6.40" fill="#b8152e" stroke="#260a0e" stroke-width="2.2"/>
<ellipse cx="1491.2" cy="433.5" rx="6.70" ry="6.40" fill="#b8152e" stroke="#260a0e" stroke-width="2.2"/>
<text transform="translate(1731.40,432.70) scale(1.0,1.06)" font-size="32.2" font-weight="normal" font-style="normal" text-anchor="end" stroke="#000" stroke-width="0.45" >R=0.29</text>
<text transform="translate(1731.80,472.00) scale(1.0,1.06)" font-size="32.2" font-weight="normal" font-style="normal" text-anchor="end" stroke="#000" stroke-width="0.45" ><tspan font-style="italic">p</tspan>=0.009</text>
<path d="M144.90,1036.85 L150.73,1036.61 L156.56,1036.36 L162.38,1036.12 L168.21,1035.87 L174.04,1035.62 L179.87,1035.37 L185.70,1035.12 L191.53,1034.86 L197.35,1034.60 L203.18,1034.33 L209.01,1034.07 L214.84,1033.80 L220.67,1033.52 L226.49,1033.24 L232.32,1032.96 L238.15,1032.67 L243.98,1032.38 L249.81,1032.08 L255.64,1031.78 L261.46,1031.47 L267.29,1031.16 L273.12,1030.84 L278.95,1030.51 L284.78,1030.17 L290.61,1029.83 L296.43,1029.48 L302.26,1029.12 L308.09,1028.76 L313.92,1028.38 L319.75,1028.00 L325.57,1027.60 L331.40,1027.19 L337.23,1026.77 L343.06,1026.34 L348.89,1025.89 L354.72,1025.44 L360.54,1024.96 L366.37,1024.48 L372.20,1023.98 L378.03,1023.46 L383.86,1022.92 L389.68,1022.37 L395.51,1021.80 L401.34,1021.21 L407.17,1020.61 L413.00,1019.98 L418.83,1019.34 L424.65,1018.68 L430.48,1018.00 L436.31,1017.30 L442.14,1016.58 L447.97,1015.84 L453.80,1015.08 L459.62,1014.30 L465.45,1013.51 L471.28,1012.69 L477.11,1011.87 L482.94,1011.02 L488.76,1010.16 L494.59,1009.28 L500.42,1008.39 L506.25,1007.48 L512.08,1006.56 L517.91,1005.62 L523.73,1004.68 L529.56,1003.72 L535.39,1002.75 L541.22,1001.77 L547.05,1000.78 L552.87,999.78 L558.70,998.77 L564.53,997.76 L570.36,996.73 L576.19,995.70 L582.02,994.66 L587.84,993.61 L593.67,992.56 L599.50,991.50 L605.33,990.44 L611.16,989.37 L616.98,988.29 L622.81,987.21 L628.64,986.13 L634.47,985.04 L640.30,983.94 L646.13,982.85 L651.95,981.75 L657.78,980.64 L663.61,979.53 L669.44,978.42 L675.27,977.31 L681.10,976.19 L686.92,975.07 L692.75,973.95 L698.58,972.83 L704.41,971.70 L710.24,970.57 L716.06,969.44 L721.89,968.31 L727.72,967.18 L733.55,966.04 L739.38,964.90 L745.21,963.76 L751.03,962.62 L756.86,961.48 L762.69,960.33 L768.52,959.19 L774.35,958.04 L780.17,956.89 L786.00,955.74 L791.83,954.59 L797.66,953.44 L803.49,952.29 L809.32,951.13 L815.14,949.98 L820.97,948.82 L826.80,947.67 L832.63,946.51 L838.46,945.35 L844.29,944.19" fill="none" stroke="#5a5a5a" stroke-width="2.15" stroke-linecap="round" stroke-dasharray="17.950 9.350" stroke-dashoffset="-1.075"/>
<path d="M144.90,1092.86 L150.73,1091.73 L156.56,1090.60 L162.38,1089.48 L168.21,1088.36 L174.04,1087.24 L179.87,1086.12 L185.70,1085.01 L191.53,1083.90 L197.35,1082.79 L203.18,1081.68 L209.01,1080.58 L214.84,1079.48 L220.67,1078.39 L226.49,1077.30 L232.32,1076.21 L238.15,1075.13 L243.98,1074.05 L249.81,1072.98 L255.64,1071.92 L261.46,1070.86 L267.29,1069.80 L273.12,1068.75 L278.95,1067.71 L284.78,1066.68 L290.61,1065.65 L296.43,1064.63 L302.26,1063.62 L308.09,1062.62 L313.92,1061.62 L319.75,1060.64 L325.57,1059.67 L331.40,1058.71 L337.23,1057.76 L343.06,1056.82 L348.89,1055.90 L354.72,1054.99 L360.54,1054.09 L366.37,1053.21 L372.20,1052.34 L378.03,1051.49 L383.86,1050.65 L389.68,1049.84 L395.51,1049.04 L401.34,1048.26 L407.17,1047.49 L413.00,1046.75 L418.83,1046.02 L424.65,1045.32 L430.48,1044.63 L436.31,1043.96 L442.14,1043.31 L447.97,1042.68 L453.80,1042.07 L459.62,1041.48 L465.45,1040.90 L471.28,1040.35 L477.11,1039.81 L482.94,1039.29 L488.76,1038.78 L494.59,1038.29 L500.42,1037.81 L506.25,1037.35 L512.08,1036.90 L517.91,1036.47 L523.73,1036.04 L529.56,1035.63 L535.39,1035.23 L541.22,1034.84 L547.05,1034.46 L552.87,1034.09 L558.70,1033.73 L564.53,1033.38 L570.36,1033.04 L576.19,1032.70 L582.02,1032.37 L587.84,1032.05 L593.67,1031.73 L599.50,1031.42 L605.33,1031.12 L611.16,1030.82 L616.98,1030.53 L622.81,1030.24 L628.64,1029.95 L634.47,1029.67 L640.30,1029.40 L646.13,1029.13 L651.95,1028.86 L657.78,1028.59 L663.61,1028.33 L669.44,1028.07 L675.27,1027.82 L681.10,1027.56 L686.92,1027.31 L692.75,1027.07 L698.58,1026.82 L704.41,1026.58 L710.24,1026.34 L716.06,1026.10 L721.89,1025.86 L727.72,1025.63 L733.55,1025.40 L739.38,1025.17 L745.21,1024.94 L751.03,1024.71 L756.86,1024.48 L762.69,1024.26 L768.52,1024.04 L774.35,1023.81 L780.17,1023.59 L786.00,1023.37 L791.83,1023.15 L797.66,1022.94 L803.49,1022.72 L809.32,1022.51 L815.14,1022.29 L820.97,1022.08 L826.80,1021.87 L832.63,1021.66 L838.46,1021.45 L844.29,1021.24" fill="none" stroke="#5a5a5a" stroke-width="2.15" stroke-linecap="round" stroke-dasharray="17.950 9.350" stroke-dashoffset="-1.075"/>
<line x1="144.50" y1="1064.90" x2="846.10" y2="982.50" stroke="#cc0f3c" stroke-width="3.5"/>
<ellipse cx="217.2" cy="926.5" rx="7.80" ry="7.50" fill="#000"/>
<ellipse cx="223.0" cy="977.2" rx="7.80" ry="7.50" fill="#000"/>
<ellipse cx="217.6" cy="995.8" rx="7.80" ry="7.50" fill="#000"/>
<ellipse cx="218.3" cy="1005.5" rx="7.80" ry="7.50" fill="#000"/>
<ellipse cx="215.3" cy="1031.0" rx="7.80" ry="7.50" fill="#000"/>
<ellipse cx="223.3" cy="1030.1" rx="7.80" ry="7.50" fill="#000"/>
<ellipse cx="217.5" cy="1049.6" rx="7.80" ry="7.50" fill="#000"/>
<ellipse cx="217.1" cy="1055.9" rx="7.80" ry="7.50" fill="#000"/>
<ellipse cx="227.3" cy="1055.0" rx="7.80" ry="7.50" fill="#000"/>
<ellipse cx="230.0" cy="1061.2" rx="7.80" ry="7.50" fill="#000"/>
<ellipse cx="238.0" cy="1064.7" rx="7.80" ry="7.50" fill="#000"/>
<ellipse cx="217.1" cy="1073.6" rx="7.80" ry="7.50" fill="#000"/>
<ellipse cx="221.5" cy="1085.2" rx="7.80" ry="7.50" fill="#000"/>
<ellipse cx="222.4" cy="1098.5" rx="7.80" ry="7.50" fill="#000"/>
<ellipse cx="211.8" cy="1104.7" rx="7.80" ry="7.50" fill="#000"/>
<ellipse cx="229.5" cy="1111.4" rx="7.80" ry="7.50" fill="#000"/>
<ellipse cx="217.5" cy="1118.5" rx="7.80" ry="7.50" fill="#000"/>
<ellipse cx="234.0" cy="1130.2" rx="7.80" ry="7.50" fill="#000"/>
<ellipse cx="233.7" cy="1183.0" rx="7.80" ry="7.50" fill="#000"/>
<ellipse cx="330.5" cy="947.8" rx="6.70" ry="6.40" fill="#1e99d4" stroke="#0c1a28" stroke-width="2.2"/>
<ellipse cx="338.0" cy="968.3" rx="6.70" ry="6.40" fill="#1e99d4" stroke="#0c1a28" stroke-width="2.2"/>
<ellipse cx="425.4" cy="956.5" rx="6.70" ry="6.40" fill="#1e99d4" stroke="#0c1a28" stroke-width="2.2"/>
<ellipse cx="473.0" cy="958.6" rx="6.70" ry="6.40" fill="#1e99d4" stroke="#0c1a28" stroke-width="2.2"/>
<ellipse cx="580.0" cy="979.2" rx="6.70" ry="6.40" fill="#1e99d4" stroke="#0c1a28" stroke-width="2.2"/>
<ellipse cx="369.2" cy="1004.0" rx="6.70" ry="6.40" fill="#1e99d4" stroke="#0c1a28" stroke-width="2.2"/>
<ellipse cx="381.9" cy="1009.6" rx="6.70" ry="6.40" fill="#1e99d4" stroke="#0c1a28" stroke-width="2.2"/>
<ellipse cx="424.5" cy="1009.6" rx="6.70" ry="6.40" fill="#1e99d4" stroke="#0c1a28" stroke-width="2.2"/>
<ellipse cx="431.0" cy="1019.2" rx="6.70" ry="6.40" fill="#1e99d4" stroke="#0c1a28" stroke-width="2.2"/>
<ellipse cx="346.3" cy="1023.0" rx="6.70" ry="6.40" fill="#1e99d4" stroke="#0c1a28" stroke-width="2.2"/>
<ellipse cx="369.2" cy="1031.7" rx="6.70" ry="6.40" fill="#1e99d4" stroke="#0c1a28" stroke-width="2.2"/>
<ellipse cx="406.0" cy="1033.0" rx="6.70" ry="6.40" fill="#1e99d4" stroke="#0c1a28" stroke-width="2.2"/>
<ellipse cx="467.8" cy="1026.8" rx="6.70" ry="6.40" fill="#1e99d4" stroke="#0c1a28" stroke-width="2.2"/>
<ellipse cx="319.5" cy="1046.3" rx="6.70" ry="6.40" fill="#1e99d4" stroke="#0c1a28" stroke-width="2.2"/>
<ellipse cx="442.5" cy="1045.5" rx="6.70" ry="6.40" fill="#1e99d4" stroke="#0c1a28" stroke-width="2.2"/>
<ellipse cx="428.6" cy="1053.8" rx="6.70" ry="6.40" fill="#1e99d4" stroke="#0c1a28" stroke-width="2.2"/>
<ellipse cx="440.5" cy="1058.7" rx="6.70" ry="6.40" fill="#1e99d4" stroke="#0c1a28" stroke-width="2.2"/>
<ellipse cx="406.5" cy="1058.2" rx="6.70" ry="6.40" fill="#1e99d4" stroke="#0c1a28" stroke-width="2.2"/>
<ellipse cx="456.8" cy="1070.1" rx="6.70" ry="6.40" fill="#1e99d4" stroke="#0c1a28" stroke-width="2.2"/>
<ellipse cx="408.0" cy="1135.3" rx="6.70" ry="6.40" fill="#1e99d4" stroke="#0c1a28" stroke-width="2.2"/>
<ellipse cx="552.2" cy="852.1" rx="6.70" ry="6.40" fill="#c8c8c8" stroke="#1c1c1c" stroke-width="2.2"/>
<ellipse cx="570.6" cy="923.2" rx="6.70" ry="6.40" fill="#c8c8c8" stroke="#1c1c1c" stroke-width="2.2"/>
<ellipse cx="421.1" cy="1014.9" rx="6.70" ry="6.40" fill="#c8c8c8" stroke="#1c1c1c" stroke-width="2.2"/>
<ellipse cx="438.6" cy="1019.1" rx="6.70" ry="6.40" fill="#c8c8c8" stroke="#1c1c1c" stroke-width="2.2"/>
<ellipse cx="554.8" cy="1041.0" rx="6.70" ry="6.40" fill="#c8c8c8" stroke="#1c1c1c" stroke-width="2.2"/>
<ellipse cx="470.4" cy="1057.6" rx="6.70" ry="6.40" fill="#c8c8c8" stroke="#1c1c1c" stroke-width="2.2"/>
<ellipse cx="487.3" cy="1054.2" rx="6.70" ry="6.40" fill="#c8c8c8" stroke="#1c1c1c" stroke-width="2.2"/>
<ellipse cx="505.3" cy="1058.2" rx="6.70" ry="6.40" fill="#c8c8c8" stroke="#1c1c1c" stroke-width="2.2"/>
<ellipse cx="507.5" cy="1063.8" rx="6.70" ry="6.40" fill="#c8c8c8" stroke="#1c1c1c" stroke-width="2.2"/>
<ellipse cx="546.0" cy="1064.7" rx="6.70" ry="6.40" fill="#c8c8c8" stroke="#1c1c1c" stroke-width="2.2"/>
<ellipse cx="522.8" cy="1073.8" rx="6.70" ry="6.40" fill="#c8c8c8" stroke="#1c1c1c" stroke-width="2.2"/>
<ellipse cx="542.2" cy="1092.6" rx="6.70" ry="6.40" fill="#c8c8c8" stroke="#1c1c1c" stroke-width="2.2"/>
<ellipse cx="371.3" cy="1111.1" rx="6.70" ry="6.40" fill="#c8c8c8" stroke="#1c1c1c" stroke-width="2.2"/>
<ellipse cx="632.4" cy="938.2" rx="6.70" ry="6.40" fill="#c8c8c8" stroke="#1c1c1c" stroke-width="2.2"/>
<ellipse cx="646.8" cy="942.4" rx="6.70" ry="6.40" fill="#c8c8c8" stroke="#1c1c1c" stroke-width="2.2"/>
<ellipse cx="603.9" cy="990.5" rx="6.70" ry="6.40" fill="#c8c8c8" stroke="#1c1c1c" stroke-width="2.2"/>
<ellipse cx="603.4" cy="1009.2" rx="6.70" ry="6.40" fill="#c8c8c8" stroke="#1c1c1c" stroke-width="2.2"/>
<ellipse cx="640.0" cy="1031.0" rx="6.70" ry="6.40" fill="#c8c8c8" stroke="#1c1c1c" stroke-width="2.2"/>
<ellipse cx="698.3" cy="1031.3" rx="6.70" ry="6.40" fill="#c8c8c8" stroke="#1c1c1c" stroke-width="2.2"/>
<ellipse cx="430.1" cy="892.7" rx="6.70" ry="6.40" fill="#b8152e" stroke="#260a0e" stroke-width="2.2"/>
<ellipse cx="576.5" cy="947.2" rx="6.70" ry="6.40" fill="#b8152e" stroke="#260a0e" stroke-width="2.2"/>
<ellipse cx="543.7" cy="984.1" rx="6.70" ry="6.40" fill="#b8152e" stroke="#260a0e" stroke-width="2.2"/>
<ellipse cx="400.3" cy="997.7" rx="6.70" ry="6.40" fill="#b8152e" stroke="#260a0e" stroke-width="2.2"/>
<ellipse cx="424.5" cy="994.8" rx="6.70" ry="6.40" fill="#b8152e" stroke="#260a0e" stroke-width="2.2"/>
<ellipse cx="530.4" cy="1011.2" rx="6.70" ry="6.40" fill="#b8152e" stroke="#260a0e" stroke-width="2.2"/>
<ellipse cx="560.8" cy="1026.0" rx="6.70" ry="6.40" fill="#b8152e" stroke="#260a0e" stroke-width="2.2"/>
<ellipse cx="532.5" cy="1033.6" rx="6.70" ry="6.40" fill="#b8152e" stroke="#260a0e" stroke-width="2.2"/>
<ellipse cx="474.2" cy="1037.1" rx="6.70" ry="6.40" fill="#b8152e" stroke="#260a0e" stroke-width="2.2"/>
<ellipse cx="489.3" cy="1044.8" rx="6.70" ry="6.40" fill="#b8152e" stroke="#260a0e" stroke-width="2.2"/>
<ellipse cx="410.7" cy="1057.4" rx="6.70" ry="6.40" fill="#b8152e" stroke="#260a0e" stroke-width="2.2"/>
<ellipse cx="475.4" cy="1090.1" rx="6.70" ry="6.40" fill="#b8152e" stroke="#260a0e" stroke-width="2.2"/>
<ellipse cx="561.7" cy="1079.6" rx="6.70" ry="6.40" fill="#b8152e" stroke="#260a0e" stroke-width="2.2"/>
<ellipse cx="497.7" cy="1127.3" rx="6.70" ry="6.40" fill="#b8152e" stroke="#260a0e" stroke-width="2.2"/>
<ellipse cx="602.6" cy="960.7" rx="6.70" ry="6.40" fill="#b8152e" stroke="#260a0e" stroke-width="2.2"/>
<ellipse cx="605.1" cy="975.1" rx="6.70" ry="6.40" fill="#b8152e" stroke="#260a0e" stroke-width="2.2"/>
<ellipse cx="715.0" cy="970.9" rx="6.70" ry="6.40" fill="#b8152e" stroke="#260a0e" stroke-width="2.2"/>
<ellipse cx="643.1" cy="1063.7" rx="6.70" ry="6.40" fill="#b8152e" stroke="#260a0e" stroke-width="2.2"/>
<ellipse cx="640.5" cy="1074.7" rx="6.70" ry="6.40" fill="#b8152e" stroke="#260a0e" stroke-width="2.2"/>
<ellipse cx="631.2" cy="1082.1" rx="6.70" ry="6.40" fill="#b8152e" stroke="#260a0e" stroke-width="2.2"/>
<text transform="translate(835.10,1169.30) scale(1.0,1.06)" font-size="32.2" font-weight="normal" font-style="normal" text-anchor="end" stroke="#000" stroke-width="0.45" >R=0.44</text>
<text transform="translate(836.60,1209.30) scale(1.0,1.06)" font-size="32.2" font-weight="normal" font-style="normal" text-anchor="end" stroke="#000" stroke-width="0.45" ><tspan font-style="italic">p</tspan>&lt;0.001</text>
<path d="M1029.05,955.82 L1034.95,956.93 L1040.86,958.04 L1046.76,959.15 L1052.67,960.25 L1058.57,961.35 L1064.48,962.45 L1070.38,963.54 L1076.29,964.64 L1082.19,965.72 L1088.10,966.81 L1094.00,967.89 L1099.90,968.97 L1105.81,970.04 L1111.71,971.11 L1117.62,972.17 L1123.52,973.23 L1129.43,974.28 L1135.33,975.32 L1141.24,976.36 L1147.14,977.40 L1153.05,978.43 L1158.95,979.45 L1164.86,980.46 L1170.76,981.46 L1176.66,982.46 L1182.57,983.44 L1188.47,984.42 L1194.38,985.38 L1200.28,986.34 L1206.19,987.28 L1212.09,988.22 L1218.00,989.13 L1223.90,990.04 L1229.81,990.93 L1235.71,991.81 L1241.62,992.67 L1247.52,993.51 L1253.42,994.34 L1259.33,995.15 L1265.23,995.94 L1271.14,996.71 L1277.04,997.46 L1282.95,998.19 L1288.85,998.90 L1294.76,999.58 L1300.66,1000.25 L1306.57,1000.89 L1312.47,1001.51 L1318.37,1002.11 L1324.28,1002.68 L1330.18,1003.23 L1336.09,1003.76 L1341.99,1004.27 L1347.90,1004.75 L1353.80,1005.21 L1359.71,1005.65 L1365.61,1006.08 L1371.52,1006.48 L1377.42,1006.86 L1383.33,1007.22 L1389.23,1007.57 L1395.13,1007.90 L1401.04,1008.21 L1406.94,1008.51 L1412.85,1008.79 L1418.75,1009.06 L1424.66,1009.31 L1430.56,1009.55 L1436.47,1009.79 L1442.37,1010.00 L1448.28,1010.21 L1454.18,1010.41 L1460.08,1010.60 L1465.99,1010.78 L1471.89,1010.95 L1477.80,1011.12 L1483.70,1011.27 L1489.61,1011.42 L1495.51,1011.57 L1501.42,1011.70 L1507.32,1011.83 L1513.23,1011.96 L1519.13,1012.08 L1525.04,1012.19 L1530.94,1012.30 L1536.84,1012.40 L1542.75,1012.51 L1548.65,1012.60 L1554.56,1012.69 L1560.46,1012.78 L1566.37,1012.87 L1572.27,1012.95 L1578.18,1013.03 L1584.08,1013.11 L1589.99,1013.18 L1595.89,1013.25 L1601.79,1013.32 L1607.70,1013.39 L1613.60,1013.45 L1619.51,1013.51 L1625.41,1013.57 L1631.32,1013.63 L1637.22,1013.68 L1643.13,1013.73 L1649.03,1013.79 L1654.94,1013.84 L1660.84,1013.88 L1666.75,1013.93 L1672.65,1013.98 L1678.55,1014.02 L1684.46,1014.06 L1690.36,1014.10 L1696.27,1014.14 L1702.17,1014.18 L1708.08,1014.22 L1713.98,1014.26 L1719.89,1014.29 L1725.79,1014.33 L1731.70,1014.36 L1737.60,1014.39" fill="none" stroke="#5a5a5a" stroke-width="2.15" stroke-linecap="round" stroke-dasharray="17.950 9.350" stroke-dashoffset="-1.075"/>
<path d="M1029.05,1021.39 L1034.95,1021.46 L1040.86,1021.53 L1046.76,1021.60 L1052.67,1021.67 L1058.57,1021.75 L1064.48,1021.83 L1070.38,1021.91 L1076.29,1022.00 L1082.19,1022.09 L1088.10,1022.19 L1094.00,1022.28 L1099.90,1022.39 L1105.81,1022.49 L1111.71,1022.60 L1117.62,1022.72 L1123.52,1022.84 L1129.43,1022.97 L1135.33,1023.10 L1141.24,1023.24 L1147.14,1023.38 L1153.05,1023.53 L1158.95,1023.69 L1164.86,1023.86 L1170.76,1024.04 L1176.66,1024.22 L1182.57,1024.41 L1188.47,1024.61 L1194.38,1024.83 L1200.28,1025.05 L1206.19,1025.28 L1212.09,1025.53 L1218.00,1025.79 L1223.90,1026.06 L1229.81,1026.35 L1235.71,1026.65 L1241.62,1026.97 L1247.52,1027.31 L1253.42,1027.66 L1259.33,1028.03 L1265.23,1028.42 L1271.14,1028.82 L1277.04,1029.25 L1282.95,1029.70 L1288.85,1030.17 L1294.76,1030.66 L1300.66,1031.18 L1306.57,1031.71 L1312.47,1032.27 L1318.37,1032.85 L1324.28,1033.46 L1330.18,1034.09 L1336.09,1034.74 L1341.99,1035.41 L1347.90,1036.10 L1353.80,1036.82 L1359.71,1037.56 L1365.61,1038.31 L1371.52,1039.09 L1377.42,1039.89 L1383.33,1040.70 L1389.23,1041.54 L1395.13,1042.39 L1401.04,1043.25 L1406.94,1044.13 L1412.85,1045.03 L1418.75,1045.94 L1424.66,1046.86 L1430.56,1047.80 L1436.47,1048.75 L1442.37,1049.71 L1448.28,1050.68 L1454.18,1051.66 L1460.08,1052.65 L1465.99,1053.64 L1471.89,1054.65 L1477.80,1055.67 L1483.70,1056.69 L1489.61,1057.72 L1495.51,1058.75 L1501.42,1059.79 L1507.32,1060.84 L1513.23,1061.90 L1519.13,1062.96 L1525.04,1064.02 L1530.94,1065.09 L1536.84,1066.16 L1542.75,1067.24 L1548.65,1068.32 L1554.56,1069.41 L1560.46,1070.50 L1566.37,1071.59 L1572.27,1072.69 L1578.18,1073.79 L1584.08,1074.89 L1589.99,1076.00 L1595.89,1077.10 L1601.79,1078.21 L1607.70,1079.33 L1613.60,1080.44 L1619.51,1081.56 L1625.41,1082.68 L1631.32,1083.80 L1637.22,1084.92 L1643.13,1086.05 L1649.03,1087.18 L1654.94,1088.30 L1660.84,1089.43 L1666.75,1090.57 L1672.65,1091.70 L1678.55,1092.83 L1684.46,1093.97 L1690.36,1095.11 L1696.27,1096.25 L1702.17,1097.39 L1708.08,1098.53 L1713.98,1099.67 L1719.89,1100.81 L1725.79,1101.96 L1731.70,1103.10 L1737.60,1104.25" fill="none" stroke="#5a5a5a" stroke-width="2.15" stroke-linecap="round" stroke-dasharray="17.950 9.350" stroke-dashoffset="-1.075"/>
<line x1="1028.00" y1="988.50" x2="1739.40" y2="1059.50" stroke="#cc0f3c" stroke-width="3.5"/>
<ellipse cx="1102.6" cy="882.4" rx="7.80" ry="7.50" fill="#000"/>
<ellipse cx="1118.7" cy="882.9" rx="7.80" ry="7.50" fill="#000"/>
<ellipse cx="1102.6" cy="919.3" rx="7.80" ry="7.50" fill="#000"/>
<ellipse cx="1102.2" cy="948.8" rx="7.80" ry="7.50" fill="#000"/>
<ellipse cx="1115.3" cy="956.9" rx="7.80" ry="7.50" fill="#000"/>
<ellipse cx="1101.7" cy="961.5" rx="7.80" ry="7.50" fill="#000"/>
<ellipse cx="1106.8" cy="967.5" rx="7.80" ry="7.50" fill="#000"/>
<ellipse cx="1107.3" cy="981.6" rx="7.80" ry="7.50" fill="#000"/>
<ellipse cx="1101.7" cy="995.6" rx="7.80" ry="7.50" fill="#000"/>
<ellipse cx="1110.2" cy="995.2" rx="7.80" ry="7.50" fill="#000"/>
<ellipse cx="1100.0" cy="999.8" rx="7.80" ry="7.50" fill="#000"/>
<ellipse cx="1118.4" cy="1019.1" rx="7.80" ry="7.50" fill="#000"/>
<ellipse cx="1097.2" cy="1052.5" rx="7.80" ry="7.50" fill="#000"/>
<ellipse cx="1114.2" cy="1055.4" rx="7.80" ry="7.50" fill="#000"/>
<ellipse cx="1103.3" cy="1068.7" rx="7.80" ry="7.50" fill="#000"/>
<ellipse cx="1118.4" cy="1083.3" rx="7.80" ry="7.50" fill="#000"/>
<ellipse cx="1122.6" cy="1094.3" rx="7.80" ry="7.50" fill="#000"/>
<ellipse cx="1269.1" cy="922.0" rx="6.70" ry="6.40" fill="#1e99d4" stroke="#0c1a28" stroke-width="2.2"/>
<ellipse cx="1205.9" cy="972.3" rx="6.70" ry="6.40" fill="#1e99d4" stroke="#0c1a28" stroke-width="2.2"/>
<ellipse cx="1224.3" cy="1001.0" rx="6.70" ry="6.40" fill="#1e99d4" stroke="#0c1a28" stroke-width="2.2"/>
<ellipse cx="1217.0" cy="1012.3" rx="6.70" ry="6.40" fill="#1e99d4" stroke="#0c1a28" stroke-width="2.2"/>
<ellipse cx="1320.5" cy="996.8" rx="6.70" ry="6.40" fill="#1e99d4" stroke="#0c1a28" stroke-width="2.2"/>
<ellipse cx="1295.3" cy="1020.6" rx="6.70" ry="6.40" fill="#1e99d4" stroke="#0c1a28" stroke-width="2.2"/>
<ellipse cx="1313.3" cy="1034.8" rx="6.70" ry="6.40" fill="#1e99d4" stroke="#0c1a28" stroke-width="2.2"/>
<ellipse cx="1330.6" cy="1031.6" rx="6.70" ry="6.40" fill="#1e99d4" stroke="#0c1a28" stroke-width="2.2"/>
<ellipse cx="1355.4" cy="1041.9" rx="6.70" ry="6.40" fill="#1e99d4" stroke="#0c1a28" stroke-width="2.2"/>
<ellipse cx="1293.6" cy="1049.8" rx="6.70" ry="6.40" fill="#1e99d4" stroke="#0c1a28" stroke-width="2.2"/>
<ellipse cx="1256.1" cy="1057.1" rx="6.70" ry="6.40" fill="#1e99d4" stroke="#0c1a28" stroke-width="2.2"/>
<ellipse cx="1295.0" cy="1060.4" rx="6.70" ry="6.40" fill="#1e99d4" stroke="#0c1a28" stroke-width="2.2"/>
<ellipse cx="1345.3" cy="1056.8" rx="6.70" ry="6.40" fill="#1e99d4" stroke="#0c1a28" stroke-width="2.2"/>
<ellipse cx="1361.6" cy="841.9" rx="6.70" ry="6.40" fill="#1e99d4" stroke="#0c1a28" stroke-width="2.2"/>
<ellipse cx="1345.4" cy="1056.8" rx="6.70" ry="6.40" fill="#1e99d4" stroke="#0c1a28" stroke-width="2.2"/>
<ellipse cx="1470.0" cy="1043.3" rx="6.70" ry="6.40" fill="#1e99d4" stroke="#0c1a28" stroke-width="2.2"/>
<ellipse cx="1311.9" cy="1120.6" rx="6.70" ry="6.40" fill="#1e99d4" stroke="#0c1a28" stroke-width="2.2"/>
<ellipse cx="1328.7" cy="1126.5" rx="6.70" ry="6.40" fill="#1e99d4" stroke="#0c1a28" stroke-width="2.2"/>
<ellipse cx="1256.7" cy="1149.4" rx="6.70" ry="6.40" fill="#1e99d4" stroke="#0c1a28" stroke-width="2.2"/>
<ellipse cx="1308.9" cy="1001.0" rx="6.70" ry="6.40" fill="#c8c8c8" stroke="#1c1c1c" stroke-width="2.2"/>
<ellipse cx="1258.4" cy="1048.1" rx="6.70" ry="6.40" fill="#c8c8c8" stroke="#1c1c1c" stroke-width="2.2"/>
<ellipse cx="1326.5" cy="1044.2" rx="6.70" ry="6.40" fill="#c8c8c8" stroke="#1c1c1c" stroke-width="2.2"/>
<ellipse cx="1431.9" cy="892.1" rx="6.70" ry="6.40" fill="#c8c8c8" stroke="#1c1c1c" stroke-width="2.2"/>
<ellipse cx="1494.0" cy="962.0" rx="6.70" ry="6.40" fill="#c8c8c8" stroke="#1c1c1c" stroke-width="2.2"/>
<ellipse cx="1435.6" cy="979.2" rx="6.70" ry="6.40" fill="#c8c8c8" stroke="#1c1c1c" stroke-width="2.2"/>
<ellipse cx="1358.4" cy="1009.9" rx="6.70" ry="6.40" fill="#c8c8c8" stroke="#1c1c1c" stroke-width="2.2"/>
<ellipse cx="1376.1" cy="1007.1" rx="6.70" ry="6.40" fill="#c8c8c8" stroke="#1c1c1c" stroke-width="2.2"/>
<ellipse cx="1445.0" cy="1002.0" rx="6.70" ry="6.40" fill="#c8c8c8" stroke="#1c1c1c" stroke-width="2.2"/>
<ellipse cx="1441.2" cy="1006.6" rx="6.70" ry="6.40" fill="#c8c8c8" stroke="#1c1c1c" stroke-width="2.2"/>
<ellipse cx="1531.0" cy="1014.7" rx="6.70" ry="6.40" fill="#c8c8c8" stroke="#1c1c1c" stroke-width="2.2"/>
<ellipse cx="1396.2" cy="1029.7" rx="6.70" ry="6.40" fill="#c8c8c8" stroke="#1c1c1c" stroke-width="2.2"/>
<ellipse cx="1394.2" cy="1045.0" rx="6.70" ry="6.40" fill="#c8c8c8" stroke="#1c1c1c" stroke-width="2.2"/>
<ellipse cx="1590.0" cy="1037.3" rx="6.70" ry="6.40" fill="#c8c8c8" stroke="#1c1c1c" stroke-width="2.2"/>
<ellipse cx="1461.0" cy="1064.1" rx="6.70" ry="6.40" fill="#c8c8c8" stroke="#1c1c1c" stroke-width="2.2"/>
<ellipse cx="1494.4" cy="1071.7" rx="6.70" ry="6.40" fill="#c8c8c8" stroke="#1c1c1c" stroke-width="2.2"/>
<ellipse cx="1537.7" cy="1066.1" rx="6.70" ry="6.40" fill="#c8c8c8" stroke="#1c1c1c" stroke-width="2.2"/>
<ellipse cx="1484.2" cy="1115.7" rx="6.70" ry="6.40" fill="#c8c8c8" stroke="#1c1c1c" stroke-width="2.2"/>
<ellipse cx="1523.3" cy="1111.9" rx="6.70" ry="6.40" fill="#c8c8c8" stroke="#1c1c1c" stroke-width="2.2"/>
<ellipse cx="1298.0" cy="970.4" rx="6.70" ry="6.40" fill="#b8152e" stroke="#260a0e" stroke-width="2.2"/>
<ellipse cx="1287.8" cy="1007.0" rx="6.70" ry="6.40" fill="#b8152e" stroke="#260a0e" stroke-width="2.2"/>
<ellipse cx="1318.5" cy="1005.8" rx="6.70" ry="6.40" fill="#b8152e" stroke="#260a0e" stroke-width="2.2"/>
<ellipse cx="1312.3" cy="1062.1" rx="6.70" ry="6.40" fill="#b8152e" stroke="#260a0e" stroke-width="2.2"/>
<ellipse cx="1495.3" cy="788.4" rx="6.70" ry="6.40" fill="#b8152e" stroke="#260a0e" stroke-width="2.2"/>
<ellipse cx="1362.9" cy="960.6" rx="6.70" ry="6.40" fill="#b8152e" stroke="#260a0e" stroke-width="2.2"/>
<ellipse cx="1421.8" cy="979.2" rx="6.70" ry="6.40" fill="#b8152e" stroke="#260a0e" stroke-width="2.2"/>
<ellipse cx="1450.5" cy="980.9" rx="6.70" ry="6.40" fill="#b8152e" stroke="#260a0e" stroke-width="2.2"/>
<ellipse cx="1534.4" cy="997.6" rx="6.70" ry="6.40" fill="#b8152e" stroke="#260a0e" stroke-width="2.2"/>
<ellipse cx="1363.7" cy="1029.7" rx="6.70" ry="6.40" fill="#b8152e" stroke="#260a0e" stroke-width="2.2"/>
<ellipse cx="1466.6" cy="1030.8" rx="6.70" ry="6.40" fill="#b8152e" stroke="#260a0e" stroke-width="2.2"/>
<ellipse cx="1450.9" cy="1069.7" rx="6.70" ry="6.40" fill="#b8152e" stroke="#260a0e" stroke-width="2.2"/>
<ellipse cx="1492.9" cy="1065.8" rx="6.70" ry="6.40" fill="#b8152e" stroke="#260a0e" stroke-width="2.2"/>
<ellipse cx="1419.2" cy="1075.6" rx="6.70" ry="6.40" fill="#b8152e" stroke="#260a0e" stroke-width="2.2"/>
<ellipse cx="1433.6" cy="1080.2" rx="6.70" ry="6.40" fill="#b8152e" stroke="#260a0e" stroke-width="2.2"/>
<ellipse cx="1607.0" cy="1063.7" rx="6.70" ry="6.40" fill="#b8152e" stroke="#260a0e" stroke-width="2.2"/>
<ellipse cx="1386.6" cy="1102.5" rx="6.70" ry="6.40" fill="#b8152e" stroke="#260a0e" stroke-width="2.2"/>
<ellipse cx="1522.3" cy="1128.8" rx="6.70" ry="6.40" fill="#b8152e" stroke="#260a0e" stroke-width="2.2"/>
<text transform="translate(1729.40,1171.80) scale(1.0,1.06)" font-size="32.2" font-weight="normal" font-style="normal" text-anchor="end" stroke="#000" stroke-width="0.45" >R=-0.22</text>
<text transform="translate(1729.60,1211.50) scale(1.0,1.06)" font-size="32.2" font-weight="normal" font-style="normal" text-anchor="end" stroke="#000" stroke-width="0.45" ><tspan font-style="italic">p</tspan>=NS (0.055)</text>
</svg>
</body></html>
